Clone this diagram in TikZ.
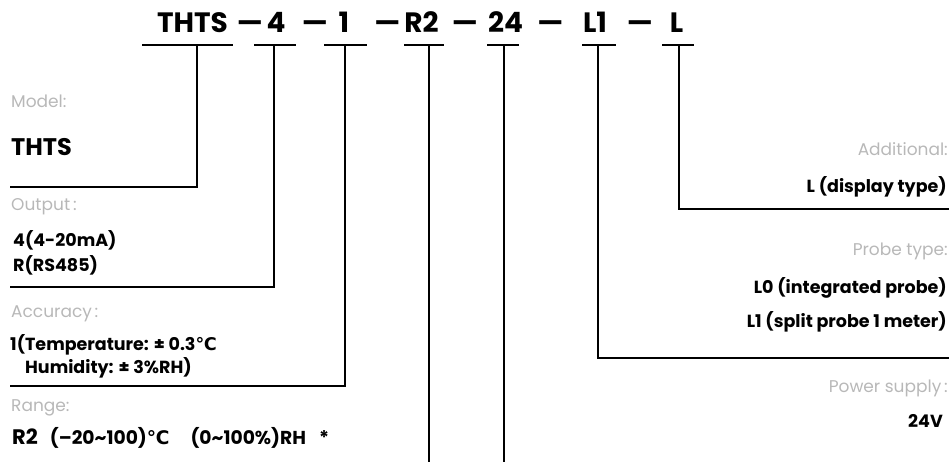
\documentclass[tikz,border=0pt]{standalone}
\usepackage{fontspec}
\setmainfont{Poppins}
\newfontfamily\symfont{DejaVu Sans}
\definecolor{lab}{HTML}{B8B8B8}
\newcommand{\degC}{{\symfont\bfseries ℃}}
\begin{document}
\begin{tikzpicture}[x=1pt,y=-1pt,
  code/.style={font=\fontsize{28}{30}\selectfont\bfseries, inner sep=0pt, anchor=base},
  caption/.style={font=\fontsize{17}{19}\selectfont, text=lab, inner sep=0pt},
  val/.style={font=\fontsize{17.5}{20}\selectfont\bfseries, inner sep=0pt},
  ln/.style={line width=2pt, line cap=rect, line join=miter}]
\useasboundingbox (0,0) rectangle (949,462);
% code string
\node[code] (cTHTS) at (192.5,33) {THTS};
\node[code] (d1) at (250,33) {—};
\node[code] (c4) at (276,33) {4};
\node[code] (d2) at (315,33) {—};
\node[code] (c1) at (344,33) {1};
\node[code] (d3) at (387.5,33) {—};
\node[code] (cR2) at (421.5,33) {R2};
\node[code] (d4) at (465,33) {—};
\node[code] (c24) at (505.5,33) {24};
\node[code] (d5) at (550.5,33) {—};
\node[code] (cL1) at (595,33) {L1};
\node[code] (d6) at (640,33) {—};
\node[code] (cL) at (676.5,33) {L};
% underlines
\draw[ln] (143,45) -- (232,45);
\draw[ln] (255,45) -- (295,45);
\draw[ln] (325,45) -- (366,45);
\draw[ln] (405,45) -- (443,45);
\draw[ln] (488,45) -- (518,45);
\draw[ln] (583,45) -- (615,45);
\draw[ln] (663,45) -- (693,45);
% left labels
\node[caption, anchor=base west] (mcap) at (11,108) {Model:};
\node[val, anchor=base west, font=\fontsize{24}{26}\selectfont\bfseries] (mval) at (11,156) {THTS};
\node[caption, anchor=base west] (ocap) at (11,211) {Output\,:};
\node[val, anchor=base west] (oval1) at (13,247) {4(4-20mA)};
\node[val, anchor=base west] (oval2) at (13,271) {R(RS485)};
\node[caption, anchor=base west] (acap) at (11,317) {Accuracy\,:};
\node[val, anchor=base west] (aval1) at (10,350) {1(Temperature: ± 0.3\degC};
\node[val, anchor=base west] (aval2) at (25,373) {Humidity: ± 3\%RH)};
\node[caption, anchor=base west] (rcap) at (11,411) {Range:};
\node[val, anchor=base west, font=\fontsize{18.7}{21}\selectfont\bfseries] (rval) at (12,444) {{\fontsize{21}{24}\selectfont R2}\hspace{12pt}(–20\textasciitilde100)\degC\hspace{21pt}(0\textasciitilde100\%)RH\hspace{13pt}*};
% right labels
\node[caption, anchor=base east] (adcap) at (948,156) {Additional:};
\node[val, anchor=base east] (adval) at (947,193) {L (display type)};
\node[caption, anchor=base east] (pcap) at (948,255) {Probe type:};
\node[val, anchor=base east] (pval1) at (947,293) {L0 (integrated probe)};
\node[val, anchor=base east] (pval2) at (947,327) {L1 (split probe 1 meter)};
\node[caption, anchor=base east] (scap) at (948,392) {Power supply\,:};
\node[val, anchor=base east] (sval) at (943,427) {24V};
% connectors
\coordinate (k1) at (197,45);
\coordinate (k2) at (274,45);
\coordinate (k3) at (345,45);
\coordinate (k4) at (429,45);
\coordinate (k5) at (504,45);
\coordinate (k6) at (598,45);
\coordinate (k7) at (679,45);
\coordinate (t1) at (11,187);
\coordinate (t2) at (11,287);
\coordinate (t3) at (11,386);
\coordinate (t4) at (11,462.6);
\coordinate (t5) at (948,462.6);
\coordinate (t6) at (948,358);
\coordinate (t7) at (948,209);
\draw[ln] (k1) |- (t1);
\draw[ln] (k2) |- (t2);
\draw[ln] (k3) |- (t3);
\draw[ln] (k4) |- (t4);
\draw[ln] (k5) |- (t5);
\draw[ln] (k6) |- (t6);
\draw[ln] (k7) |- (t7);
\end{tikzpicture}
\end{document}
